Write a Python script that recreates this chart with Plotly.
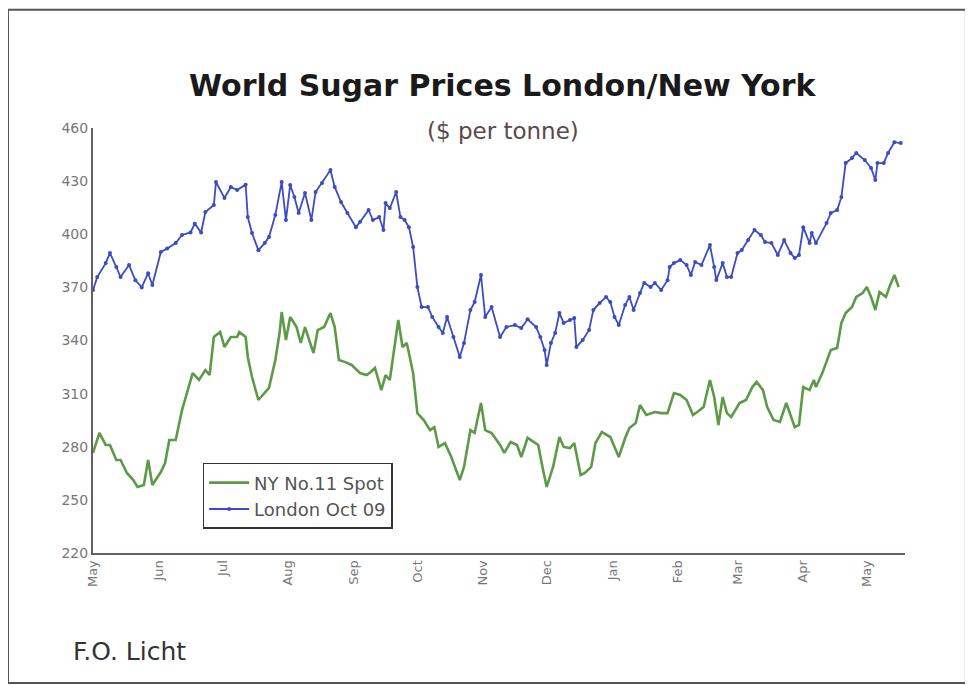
import plotly.graph_objects as go

# London Oct 09 contract ($ per tonne)
london_dates = [
    "2008-05-01", "2008-05-03", "2008-05-07", "2008-05-09", "2008-05-12", "2008-05-14", "2008-05-18",
    "2008-05-21", "2008-05-24", "2008-05-27", "2008-05-29", "2008-06-02", "2008-06-05", "2008-06-09",
    "2008-06-12", "2008-06-16", "2008-06-18", "2008-06-21", "2008-06-23", "2008-06-27", "2008-06-28",
    "2008-07-02", "2008-07-05", "2008-07-08", "2008-07-12", "2008-07-13", "2008-07-15", "2008-07-18",
    "2008-07-21", "2008-07-23", "2008-07-26", "2008-07-29", "2008-07-31", "2008-08-02", "2008-08-04",
    "2008-08-06", "2008-08-09", "2008-08-12", "2008-08-14", "2008-08-17", "2008-08-21", "2008-08-23",
    "2008-08-26", "2008-08-29", "2008-09-02", "2008-09-04", "2008-09-08", "2008-09-10", "2008-09-13",
    "2008-09-15", "2008-09-16", "2008-09-18", "2008-09-21", "2008-09-23", "2008-09-25", "2008-09-27",
    "2008-09-29", "2008-10-01", "2008-10-03", "2008-10-06", "2008-10-08", "2008-10-11", "2008-10-13",
    "2008-10-15", "2008-10-18", "2008-10-21", "2008-10-23", "2008-10-26", "2008-10-28", "2008-10-31",
    "2008-11-02", "2008-11-05", "2008-11-09", "2008-11-12", "2008-11-16", "2008-11-19", "2008-11-22",
    "2008-11-26", "2008-11-28", "2008-11-30", "2008-12-01", "2008-12-03", "2008-12-05", "2008-12-07",
    "2008-12-09", "2008-12-12", "2008-12-14", "2008-12-15", "2008-12-18", "2008-12-21", "2008-12-23",
    "2008-12-26", "2008-12-29", "2008-12-31", "2009-01-02", "2009-01-04", "2009-01-07", "2009-01-09",
    "2009-01-11", "2009-01-14", "2009-01-16", "2009-01-19", "2009-01-21", "2009-01-24", "2009-01-27",
    "2009-01-28", "2009-01-30", "2009-02-02", "2009-02-05", "2009-02-07", "2009-02-09", "2009-02-12",
    "2009-02-16", "2009-02-18", "2009-02-19", "2009-02-22", "2009-02-24", "2009-02-26", "2009-03-01",
    "2009-03-03", "2009-03-06", "2009-03-09", "2009-03-12", "2009-03-14", "2009-03-17", "2009-03-20",
    "2009-03-23", "2009-03-26", "2009-03-28", "2009-03-30", "2009-04-01", "2009-04-04", "2009-04-05",
    "2009-04-07", "2009-04-12", "2009-04-14", "2009-04-17", "2009-04-19", "2009-04-21", "2009-04-24",
    "2009-04-26", "2009-04-30", "2009-05-03", "2009-05-05", "2009-05-06", "2009-05-09", "2009-05-11",
    "2009-05-14", "2009-05-17",
]
london_prices = [
    368.5, 375.8, 383.7, 389.4, 381.5, 375.8, 382.6,
    374.0, 370.0, 378.0, 371.3, 390.0, 392.0, 395.0,
    399.6, 401.0, 406.0, 401.0, 412.5, 416.5, 429.5,
    420.5, 426.7, 425.0, 428.0, 409.7, 400.7, 391.0,
    395.0, 398.4, 410.9, 429.5, 408.0, 427.8, 421.0,
    412.0, 423.3, 408.0, 423.8, 429.0, 436.3, 426.7,
    418.2, 412.0, 404.0, 407.0, 413.7, 408.0, 409.7,
    402.4, 417.6, 414.8, 423.8, 409.7, 408.0, 404.0,
    392.8, 370.2, 358.9, 358.9, 353.3, 347.6, 344.2,
    353.3, 342.0, 330.7, 338.6, 357.2, 361.7, 377.0,
    353.3, 358.9, 342.0, 347.6, 348.7, 347.0, 352.0,
    347.6, 342.0, 334.6, 326.2, 338.6, 344.2, 355.5,
    349.9, 351.6, 352.7, 336.3, 340.3, 346.0, 357.2,
    361.2, 364.6, 361.7, 353.3, 348.7, 360.0, 364.6,
    357.2, 366.8, 372.5, 370.2, 372.5, 368.5, 374.0,
    381.5, 383.7, 385.4, 382.6, 377.0, 384.3, 382.6,
    393.9, 381.5, 374.1, 383.7, 375.8, 375.8, 389.4,
    391.1, 396.7, 402.4, 399.6, 395.6, 395.0, 388.3,
    396.7, 389.4, 386.6, 388.3, 404.0, 395.0, 400.7,
    395.0, 406.3, 412.0, 413.7, 421.0, 440.2, 443.0,
    445.9, 441.9, 437.4, 430.6, 440.2, 440.2, 445.9,
    452.0, 451.5,
]

# NY No.11 Spot ($ per tonne)
ny_dates = [
    "2008-05-01", "2008-05-04", "2008-05-07", "2008-05-09", "2008-05-12", "2008-05-14", "2008-05-17",
    "2008-05-20", "2008-05-22", "2008-05-25", "2008-05-27", "2008-05-29", "2008-06-02", "2008-06-04",
    "2008-06-06", "2008-06-09", "2008-06-12", "2008-06-15", "2008-06-17", "2008-06-20", "2008-06-23",
    "2008-06-25", "2008-06-27", "2008-06-30", "2008-07-02", "2008-07-05", "2008-07-08", "2008-07-09",
    "2008-07-12", "2008-07-13", "2008-07-15", "2008-07-18", "2008-07-21", "2008-07-23", "2008-07-26",
    "2008-07-28", "2008-07-29", "2008-07-31", "2008-08-02", "2008-08-05", "2008-08-07", "2008-08-09",
    "2008-08-13", "2008-08-15", "2008-08-18", "2008-08-21", "2008-08-23", "2008-08-25", "2008-08-28",
    "2008-08-31", "2008-09-04", "2008-09-07", "2008-09-09", "2008-09-11", "2008-09-14", "2008-09-16",
    "2008-09-18", "2008-09-22", "2008-09-24", "2008-09-26", "2008-09-29", "2008-10-01", "2008-10-04",
    "2008-10-07", "2008-10-09", "2008-10-11", "2008-10-14", "2008-10-17", "2008-10-21", "2008-10-23",
    "2008-10-26", "2008-10-28", "2008-10-31", "2008-11-02", "2008-11-05", "2008-11-09", "2008-11-11",
    "2008-11-14", "2008-11-17", "2008-11-19", "2008-11-22", "2008-11-27", "2008-11-29", "2008-12-01",
    "2008-12-04", "2008-12-07", "2008-12-09", "2008-12-12", "2008-12-14", "2008-12-17", "2008-12-19",
    "2008-12-22", "2008-12-24", "2008-12-27", "2008-12-31", "2009-01-02", "2009-01-04", "2009-01-07",
    "2009-01-09", "2009-01-12", "2009-01-14", "2009-01-17", "2009-01-21", "2009-01-24", "2009-01-27",
    "2009-01-30", "2009-02-02", "2009-02-05", "2009-02-08", "2009-02-10", "2009-02-13", "2009-02-16",
    "2009-02-18", "2009-02-20", "2009-02-22", "2009-02-24", "2009-02-26", "2009-03-02", "2009-03-05",
    "2009-03-08", "2009-03-10", "2009-03-13", "2009-03-15", "2009-03-18", "2009-03-21", "2009-03-24",
    "2009-03-28", "2009-03-30", "2009-04-01", "2009-04-04", "2009-04-06", "2009-04-07", "2009-04-10",
    "2009-04-14", "2009-04-17", "2009-04-19", "2009-04-21", "2009-04-24", "2009-04-26", "2009-04-29",
    "2009-05-01", "2009-05-03", "2009-05-05", "2009-05-07", "2009-05-10", "2009-05-12", "2009-05-14",
    "2009-05-16",
]
ny_prices = [
    276.5, 287.8, 281.0, 281.0, 272.5, 272.5, 265.2,
    261.2, 257.3, 258.4, 272.5, 258.4, 265.7, 270.8,
    283.8, 283.8, 300.7, 313.7, 321.6, 317.7, 323.3,
    320.5, 342.0, 344.8, 336.3, 342.0, 342.0, 344.8,
    342.0, 330.7, 319.4, 306.4, 310.3, 313.2, 329.0,
    344.2, 356.1, 340.3, 353.3, 347.6, 338.6, 347.6,
    332.9, 345.9, 347.6, 355.5, 347.6, 329.0, 327.8,
    326.2, 321.6, 320.5, 322.2, 324.5, 312.0, 320.5,
    317.7, 351.6, 336.3, 338.6, 321.6, 299.0, 295.1,
    289.4, 291.1, 279.9, 282.1, 274.2, 261.2, 268.6,
    289.4, 287.8, 304.7, 289.4, 287.8, 281.0, 276.5,
    282.7, 281.0, 274.2, 285.0, 281.0, 268.6, 257.3,
    268.6, 285.5, 279.9, 279.3, 282.1, 264.0, 265.2,
    268.6, 282.1, 288.3, 285.5, 279.9, 274.2, 284.9,
    290.6, 293.4, 303.6, 297.9, 299.6, 299.0, 299.0,
    310.3, 309.2, 306.4, 297.9, 299.6, 302.4, 317.7,
    308.1, 292.3, 308.1, 299.0, 296.8, 304.7, 306.4,
    313.7, 316.6, 312.0, 302.4, 295.1, 294.0, 304.7,
    291.1, 292.3, 313.7, 312.0, 317.7, 313.7, 321.6,
    334.6, 335.8, 349.9, 355.5, 358.9, 364.6, 366.8,
    370.2, 364.6, 357.2, 367.4, 364.6, 371.3, 377.0,
    370.2,
]

y_ticks = [220, 250, 280, 310, 340, 370, 400, 430, 460]

fig = go.Figure()
fig.add_trace(go.Scatter(
    x=ny_dates, y=ny_prices, name="NY No.11 Spot", mode="lines",
    line=dict(color="#5d9a47", width=2.6),
))
fig.add_trace(go.Scatter(
    x=london_dates, y=london_prices, name="London Oct 09", mode="lines+markers",
    line=dict(color="#3c4cc2", width=1.8),
    marker=dict(color="#3c4cc2", size=4),
))

axis_color = "#6e5c5c"
fig.update_layout(
    width=965, height=677,
    margin=dict(l=85, r=68, t=120, b=132),
    paper_bgcolor="white", plot_bgcolor="white",
    showlegend=True,
    legend=dict(
        x=0.135, y=0.212, xanchor="left", yanchor="top",
        bgcolor="white", bordercolor="#3a3030", borderwidth=1.5,
        font=dict(family="DejaVu Sans", size=18, color="#555555"),
        itemwidth=40, tracegroupgap=4,
    ),
    xaxis=dict(
        type="date", range=["2008-05-01", "2009-05-19"],
        tickformat="%b", dtick="M1", tick0="2008-05-01",
        tickangle=-90, showgrid=False, zeroline=False,
        showline=True, linecolor=axis_color, linewidth=2,
        ticks="", tickfont=dict(family="DejaVu Sans", size=13, color="#777777"),
    ),
    yaxis=dict(
        range=[220, 460], tickvals=y_ticks, showgrid=False, zeroline=False,
        showline=True, linecolor=axis_color, linewidth=2,
        ticks="", ticklen=0, tickfont=dict(family="DejaVu Sans", size=14, color="#777777"),
    ),
    annotations=[
        dict(text="<b>World Sugar Prices London/New York</b>", xref="paper", yref="paper",
             x=0.505, y=1, yshift=43, xanchor="center", yanchor="middle", showarrow=False,
             font=dict(family="DejaVu Sans", size=30, color="#1a1a1a")),
        dict(text="($ per tonne)", xref="paper", yref="paper",
             x=0.505, y=1, yshift=-3, xanchor="center", yanchor="middle", showarrow=False,
             font=dict(family="DejaVu Sans", size=23, color="#5a4a4a")),
        dict(text="F.O. Licht", xref="paper", yref="paper",
             x=-0.027, y=0, yshift=-98, xanchor="left", yanchor="middle", showarrow=False,
             font=dict(family="DejaVu Sans", size=25, color="#333333")),
    ],
    shapes=[
        dict(type="rect", xref="paper", yref="paper", x0=-0.1047, x1=1.075, y0=-0.306, y1=1.278,
             line=dict(color="#555555", width=2), layer="below"),
    ],
)

fig.write_html("out.html")
